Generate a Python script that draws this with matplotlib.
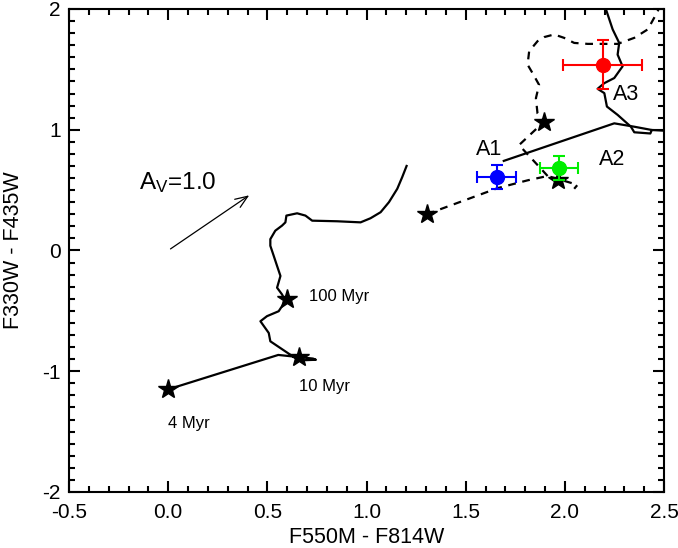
import numpy as np
import matplotlib
matplotlib.use('Agg')
import matplotlib.pyplot as plt
from matplotlib.ticker import MultipleLocator, FormatStrFormatter

plt.rcParams['font.family'] = ['Liberation Sans', 'DejaVu Sans']
plt.rcParams['axes.unicode_minus'] = False
plt.rcParams['mathtext.default'] = 'regular'

# left solid track
trackL_x = [0.0, 0.555, 0.73, 0.745, 0.66, 0.64, 0.515, 0.507, 0.465, 0.498, 0.557, 0.591,
            0.574, 0.549, 0.566, 0.549, 0.532, 0.515, 0.515, 0.540, 0.574, 0.591, 0.596,
            0.65, 0.692, 0.726, 0.852, 0.970, 1.020, 1.071, 1.113, 1.155, 1.180, 1.202]
trackL_y = [-1.15, -0.865, -0.895, -0.905, -0.91, -0.89, -0.752, -0.683, -0.586, -0.544,
            -0.503, -0.419, -0.364, -0.308, -0.211, -0.128, -0.044, 0.039, 0.094, 0.164,
            0.206, 0.233, 0.289, 0.308, 0.289, 0.247, 0.242, 0.233, 0.267, 0.317, 0.40,
            0.511, 0.608, 0.70]

# right solid track, two pieces
trackR1_x = [1.692, 2.249, 2.350, 2.438]
trackR1_y = [0.742, 1.053, 1.025, 0.998]
trackR2_x = [2.56, 2.501, 2.438, 2.431, 2.350, 2.333, 2.266, 2.212, 2.199, 2.165, 2.199,
             2.249, 2.291, 2.266, 2.274, 2.241, 2.207, 2.20]
trackR2_y = [0.99, 0.992, 0.998, 0.969, 0.979, 1.025, 1.123, 1.192, 1.303, 1.339, 1.386,
             1.428, 1.525, 1.622, 1.719, 1.831, 1.998, 2.05]

# dashed track, two pieces
dash1_x = [1.303, 1.662, 1.812, 1.913, 2.064, 2.047]
dash1_y = [0.30, 0.517, 0.581, 0.617, 0.544, 0.511]
dash2_x = [1.913, 1.879, 1.769, 1.895, 1.862, 1.854, 1.870, 1.837, 1.812, 1.820, 1.862,
           1.895, 1.946, 1.996, 2.047, 2.115, 2.266, 2.350, 2.418, 2.46, 2.485]
dash2_y = [0.617, 0.678, 0.873, 1.067, 1.136, 1.261, 1.372, 1.469, 1.539, 1.65, 1.733,
           1.767, 1.789, 1.761, 1.719, 1.711, 1.711, 1.761, 1.831, 1.956, 2.04]

# age stars
star_x = [0.0, 0.66, 0.60, 1.303, 1.895, 1.965]
star_y = [-1.15, -0.88, -0.40, 0.30, 1.067, 0.583]
age_labels = ['4 Myr', '10 Myr', '100 Myr']
age_lx = [0.0, 0.66, 0.71]
age_ly = [-1.43, -1.13, -0.38]

# observed regions
reg_names = ['A1', 'A2', 'A3']
reg_x = [1.656, 1.97, 2.19]
reg_y = [0.61, 0.68, 1.54]
reg_xerr = [0.10, 0.095, 0.20]
reg_yerr = [0.10, 0.10, 0.20]
reg_colors = ['#0000ff', '#00ee00', '#ff0000']
name_x = [1.62, 2.24, 2.31]
name_y = [0.84, 0.75, 1.29]

fig = plt.figure(figsize=(6.78, 5.48), dpi=100)
ax = fig.add_axes([0.1018, 0.1022, 0.8776, 0.8814])

ax.plot(trackL_x, trackL_y, color='k', lw=1.6)
ax.plot(trackR1_x, trackR1_y, color='k', lw=1.6)
ax.plot(trackR2_x, trackR2_y, color='k', lw=1.6)
ax.plot(dash1_x, dash1_y, color='k', lw=1.6, ls=(0, (3.5, 3)))
ax.plot(dash2_x, dash2_y, color='k', lw=1.6, ls=(0, (3.5, 3)))

ax.plot(star_x, star_y, ls='none', marker='*', ms=15, color='k')

for i in range(3):
    ax.errorbar(reg_x[i], reg_y[i], xerr=reg_xerr[i], yerr=reg_yerr[i], fmt='o',
                color=reg_colors[i], ms=10, capsize=4.5, elinewidth=1.5, capthick=1.5)
    ax.text(name_x[i], name_y[i], reg_names[i], fontsize=15.5, ha='center', va='center')

for i in range(3):
    ax.text(age_lx[i], age_ly[i], age_labels[i], fontsize=12, ha='left', va='center')

ax.annotate('', xy=(0.42, 0.47), xytext=(0.0, 0.0),
            arrowprops=dict(arrowstyle='->,head_length=0.9,head_width=0.35', lw=0.9, color='k'))
ax.text(-0.145, 0.56, r'A$_{V}$=1.0', fontsize=17.5, ha='left', va='center')

ax.set_xlim(-0.5, 2.5)
ax.set_ylim(-2, 2)
ax.xaxis.set_major_locator(MultipleLocator(0.5))
ax.xaxis.set_minor_locator(MultipleLocator(0.1))
ax.xaxis.set_major_formatter(FormatStrFormatter('%.1f'))
ax.yaxis.set_major_locator(MultipleLocator(1))
ax.yaxis.set_minor_locator(MultipleLocator(0.1))
ax.tick_params(which='both', direction='in', top=True, right=True, labelsize=15, width=1.5)
ax.tick_params(which='major', length=8)
ax.tick_params(which='minor', length=4)
ax.tick_params(axis='x', pad=8)
ax.tick_params(axis='y', pad=6)
for s in ax.spines.values():
    s.set_linewidth(1.5)

ax.set_xlabel('F550M - F814W', fontsize=15.5)
ax.set_ylabel('F330W - F435W', fontsize=15.5)
ax.xaxis.set_label_coords(0.5, -0.072)
ax.yaxis.set_label_coords(-0.075, 0.5)

fig.savefig('out.png', dpi=100)
